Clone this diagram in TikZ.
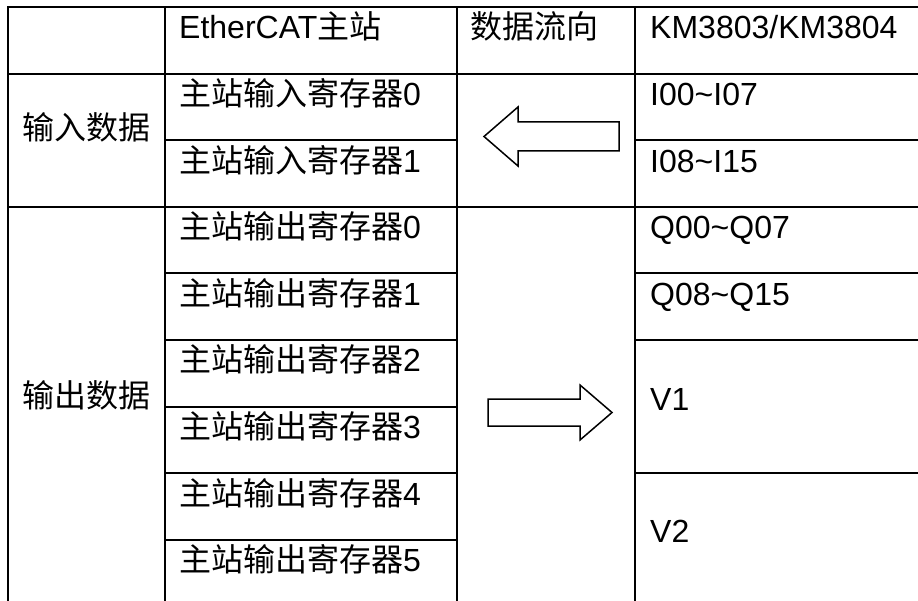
\documentclass[tikz,border=0pt]{standalone}
\usepackage{fontspec}
\setmainfont{Liberation Sans}
\newfontfamily\cjkfont{Noto Sans CJK SC}
\newcommand\zhtext[1]{{\cjkfont #1}}
\begin{document}
\begin{tikzpicture}[x=1pt,y=-1pt,
  gridline/.style={line width=2pt, line cap=rect},
  blockarrow/.style={draw, line width=1.5pt, fill=white, line join=miter},
  txt/.style={anchor=base west, inner sep=0pt, font=\fontsize{32}{38}\selectfont}]
\useasboundingbox (0,0) rectangle (918,601);
\fill[white] (0,0) rectangle (918,601);

% vertical lines
\draw[gridline] (8,7.5) -- (8,610);
\draw[gridline] (165,7.5) -- (165,610);
\draw[gridline] (457,7.5) -- (457,610);
\draw[gridline] (635,7.5) -- (635,610);
% full-width horizontal lines
\draw[gridline] (8,7.5) -- (925,7.5);
\draw[gridline] (8,74) -- (925,74);
\draw[gridline] (8,207) -- (925,207);
% column 2 lines
\foreach \y in {140.5,273.5,340,406.5,473,539.5}
  \draw[gridline] (165,\y) -- (457,\y);
% column 4 lines
\foreach \y in {140.5,273.5,340,473}
  \draw[gridline] (635,\y) -- (925,\y);

% header
\node[txt] (h2) at (179,39) {EtherCAT\zhtext{主站}};
\node[txt] (h3) at (470,39) {\zhtext{数据流向}};
\node[txt] (h4) at (650,39) {KM3803/KM3804};

% column 1
\node[txt] (inlbl) at (22,140) {\zhtext{输入数据}};
\node[txt] (outlbl) at (22,407) {\zhtext{输出数据}};

% column 2
\node[txt] (in0) at (179,106) {\zhtext{主站输入寄存器}0};
\node[txt] (in1) at (179,172.5) {\zhtext{主站输入寄存器}1};
\node[txt] (out0) at (179,239) {\zhtext{主站输出寄存器}0};
\node[txt] (out1) at (179,305.5) {\zhtext{主站输出寄存器}1};
\node[txt] (out2) at (179,372) {\zhtext{主站输出寄存器}2};
\node[txt] (out3) at (179,438.5) {\zhtext{主站输出寄存器}3};
\node[txt] (out4) at (179,505) {\zhtext{主站输出寄存器}4};
\node[txt] (out5) at (179,571.5) {\zhtext{主站输出寄存器}5};

% column 4
\node[txt] (i0) at (650,106) {I00\textasciitilde I07};
\node[txt] (i1) at (650,172.5) {I08\textasciitilde I15};
\node[txt] (q0) at (650,239) {Q00\textasciitilde Q07};
\node[txt] (q1) at (650,305.5) {Q08\textasciitilde Q15};
\node[txt] (v1) at (650,410) {V1};
\node[txt] (v2) at (650,542) {V2};

% block arrows
\draw[blockarrow] (484,136.5) -- (518,107) -- (518,122) -- (619,122) -- (619,151) -- (518,151) -- (518,166) -- cycle;
\draw[blockarrow] (612,412.5) -- (580,385) -- (580,399) -- (488,399) -- (488,426) -- (580,426) -- (580,440) -- cycle;
\end{tikzpicture}
\end{document}
